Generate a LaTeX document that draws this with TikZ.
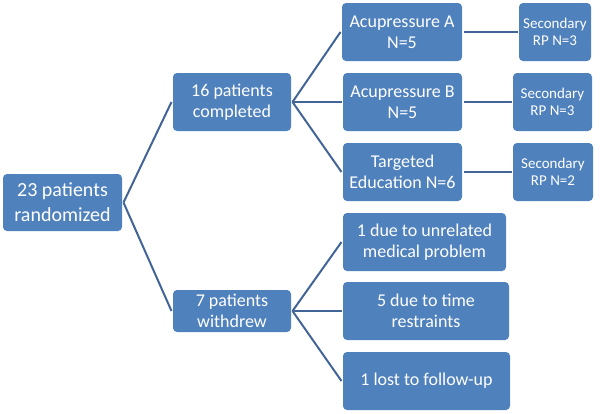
\documentclass[tikz,border=0pt]{standalone}
\usepackage{fontspec}
\setmainfont{Carlito}
\usepackage{tikz}
\usetikzlibrary{positioning}
\usepackage{xcolor}
\definecolor{cajacolor}{RGB}{79,129,189}
\definecolor{lineacolor}{RGB}{66,100,150}
\tikzset{
  caja/.style={fill=cajacolor, rounded corners=4pt, text=white, align=center,
    inner sep=0pt, outer sep=1.5pt, font=\fontsize{18}{21}\selectfont},
  cajagrande/.style={caja, font=\fontsize{20}{25}\selectfont},
  cajachica/.style={caja, font=\fontsize{15}{17}\selectfont},
  enlace/.style={draw=lineacolor, line width=2pt}
}

\begin{document}
\begin{tikzpicture}[x=1pt, y=-1pt]

\useasboundingbox (0,0) rectangle (600,413);

% Nodo inicial
\node[cajagrande, minimum width=119pt, minimum height=57pt] (rand) at (62.5,202.5) {23 patients\\randomized};

% Segundo nivel
\node[caja, minimum width=118pt, minimum height=58pt] (done) at (232,102) {16 patients\\completed};
\node[caja, minimum width=118pt, minimum height=42pt] (quit) at (232,311) {7 patients\\withdrew};

% Grupos de tratamiento
\node[caja, minimum width=120pt, minimum height=58pt] (acuA) at (402,32) {Acupressure A\\N=5};
\node[caja, minimum width=119pt, minimum height=58pt] (acuB) at (402.5,102) {Acupressure B\\N=5};
\node[caja, minimum width=119pt, minimum height=58pt] (edu) at (402.5,172) {Targeted\\Education N=6};

% Secundarios
\node[cajachica, minimum width=72pt, minimum height=58pt] (secA) at (555,32) {Secondary\\RP N=3};
\node[cajachica, minimum width=79pt, minimum height=58pt] (secB) at (552.5,102) {Secondary\\RP N=3};
\node[cajachica, minimum width=80pt, minimum height=58pt] (secC) at (553,172) {Secondary\\RP N=2};

% Motivos de retiro
\node[caja, minimum width=163pt, minimum height=58pt] (why1) at (424.5,242) {1 due to unrelated\\medical problem};
\node[caja, minimum width=166pt, minimum height=58pt] (why2) at (426,311) {5 due to time\\restraints};
\node[caja, minimum width=167pt, minimum height=58pt] (why3) at (426.5,381) {1 lost to follow-up};

% Conectores
\draw[enlace] (rand.east) -- (done.west);
\draw[enlace] (rand.east) -- (quit.west);
\foreach \b in {acuA,acuB,edu} {
  \draw[enlace] (done.east) -- (\b.west);
}
\foreach \b in {why1,why2,why3} {
  \draw[enlace] (quit.east) -- (\b.west);
}
\draw[enlace] (acuA.east) -- (secA.west);
\draw[enlace] (acuB.east) -- (secB.west);
\draw[enlace] (edu.east) -- (secC.west);

\end{tikzpicture}
\end{document}
